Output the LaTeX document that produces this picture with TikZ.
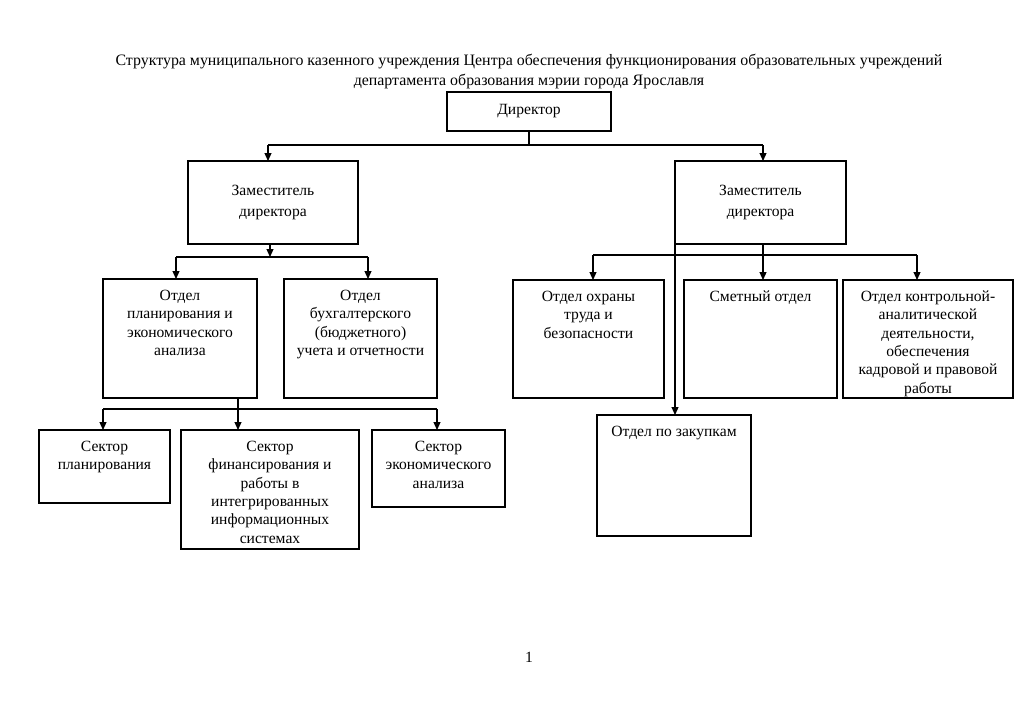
\documentclass[tikz,border=0pt]{standalone}
\usepackage{fontspec}
\setmainfont{Liberation Serif}
\usetikzlibrary{arrows.meta}
\newcommand{\tb}[3]{\parbox[c][#2][t]{#1}{\centering\vspace*{8.5pt}\strut#3\par}}
\newcommand{\cb}[3]{\parbox[c][#2][c]{#1}{\centering #3\par}}
\tikzset{
  box/.style={draw, line width=1.1pt, inner sep=0pt, outer sep=0pt, font=\fontsize{15.6}{18.4}\selectfont},
  ln/.style={line width=1.1pt},
  arr/.style={line width=1.1pt, -{Triangle[length=8pt,width=7pt]}},
}
\begin{document}
\begin{tikzpicture}[x=1pt,y=-1pt]
\useasboundingbox (0,0) rectangle (1024,724);
\node[font=\fontsize{15.9}{20}\selectfont, align=center] (title) at (529,71)
  {Структура муниципального казенного учреждения Центра обеспечения функционирования образовательных учреждений\\
   департамента образования мэрии города Ярославля};
\node[box] (dir) at (529,111.5) {\cb{164pt}{39pt}{Директор}};
\node[box] (ld) at (273,202.5) {\cb{170pt}{83pt}{Заместитель\\[2pt] директора}};
\node[box] (rd) at (760.5,202.5) {\cb{171pt}{83pt}{Заместитель\\[2pt] директора}};
\node[box] (plan) at (180,338.5) {\tb{154pt}{119pt}{Отдел\\ планирования и\\ экономического\\ анализа}};
\node[box] (buh) at (360.5,338.5) {\tb{153pt}{119pt}{Отдел\\ бухгалтерского\\ (бюджетного)\\ учета и отчетности}};
\node[box] (ohr) at (588.5,339) {\tb{151pt}{118pt}{Отдел охраны\\ труда и\\ безопасности}};
\node[box] (smet) at (760.5,339) {\tb{153pt}{118pt}{Сметный отдел}};
\node[box] (kont) at (928,339) {\tb{170pt}{118pt}{Отдел контрольной-\\ аналитической\\ деятельности,\\ обеспечения\\ кадровой и правовой\\ работы}};
\node[box] (zak) at (674,475.5) {\tb{154pt}{121pt}{Отдел по закупкам}};
\node[box] (sp) at (104.5,466.5) {\tb{131pt}{73pt}{Сектор\\ планирования}};
\node[box] (sf) at (270,489.5) {\tb{178pt}{119pt}{Сектор\\ финансирования и\\ работы в\\ интегрированных\\ информационных\\ системах}};
\node[box] (se) at (438.5,468.5) {\tb{133pt}{77pt}{Сектор\\ экономического\\ анализа}};
\node[font=\fontsize{15.6}{18}\selectfont] (pg) at (529,657) {1};
% director connections
\coordinate (dj) at (529,145);
\coordinate (dL) at (268,145);
\coordinate (dR) at (763,145);
\draw[ln] (dir.south) -- (dj);
\draw[ln] (dL) -- (dR);
\draw[arr] (dL) -- (dL |- ld.north);
\draw[arr] (dR) -- (dR |- rd.north);
% left deputy
\coordinate (lj) at (270,257);
\coordinate (lL) at (176,257);
\coordinate (lR) at (368,257);
\draw[arr] (lj |- ld.south) -- (lj);
\draw[ln] (lL) -- (lR);
\draw[arr] (lL) -- (lL |- plan.north);
\draw[arr] (lR) -- (lR |- buh.north);
% right deputy
\coordinate (rL) at (593,255);
\coordinate (rR) at (917,255);
\coordinate (rj) at (763,255);
\draw[arr] (rj |- rd.south) -- (rj |- smet.north);
\draw[ln] (rL) -- (rR);
\draw[arr] (rL) -- (rL |- ohr.north);
\draw[arr] (rR) -- (rR |- kont.north);
\draw[arr] (rd.south west) -- (rd.south west |- zak.north);
% planning sectors
\coordinate (pj) at (238,409);
\coordinate (pL) at (103,409);
\coordinate (pR) at (437,409);
\draw[ln] (pj |- plan.south) -- (pj);
\draw[ln] (pL) -- (pR);
\draw[arr] (pL) -- (pL |- sp.north);
\draw[arr] (pj) -- (pj |- sf.north);
\draw[arr] (pR) -- (pR |- se.north);
\end{tikzpicture}
\end{document}
